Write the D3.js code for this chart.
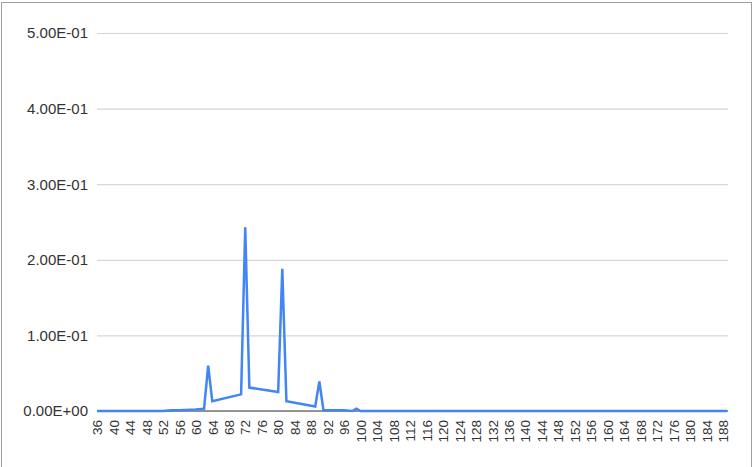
<!DOCTYPE html>
<html>
<head>
<meta charset="utf-8">
<script src="https://cdn.jsdelivr.net/npm/d3@7"></script>
<style>
  html, body { margin: 0; padding: 0; background: #fff; }
  svg { display: block; font-family: "Liberation Sans", Arial, sans-serif; }
</style>
</head>
<body>
<div id="chart"></div>
<script>
// break points of the series (values elsewhere sit on these segments)
const xValues = [36, 52, 54, 56, 60, 62, 63, 64, 71, 72, 73, 80, 81, 82, 89, 90, 91, 96, 98, 99, 100, 189]
const yValues = [0, 0, 0.001, 0.001, 0.002, 0.003, 0.06, 0.013, 0.022, 0.243, 0.031, 0.025, 0.188, 0.013, 0.006, 0.039, 0.001, 0.001, 0, 0.003, 0, 0]
const xTicks = [36, 40, 44, 48, 52, 56, 60, 64, 68, 72, 76, 80, 84, 88, 92, 96, 100, 104, 108, 112, 116, 120,
  124, 128, 132, 136, 140, 144, 148, 152, 156, 160, 164, 168, 172, 176, 180, 184, 188]
const yTicks = [0, 0.1, 0.2, 0.3, 0.4, 0.5]
const yTickLabels = ["0.00E+00", "1.00E-01", "2.00E-01", "3.00E-01", "4.00E-01", "5.00E-01"]

const width = 753, height = 467
const margin = {top: 33, right: 25, bottom: 56, left: 97}

const svg = d3.select("#chart")
  .append("svg")
  .attr("width", width)
  .attr("height", height)

// outer frame of the chart box
svg.append("rect")
  .attr("x", 1.5).attr("y", 2.5)
  .attr("width", 750).attr("height", 470)
  .attr("fill", "none")
  .attr("stroke", "#9e9e9e")

const x = d3.scaleLinear().domain([36, 189]).range([margin.left, width - margin.right - 1])
const y = d3.scaleLinear().domain([0, 0.5]).range([height - margin.bottom, margin.top])

// horizontal gridlines + y labels
const gy = svg.append("g")
  .attr("transform", "translate(" + margin.left + ",0)")
  .call(d3.axisLeft(y)
    .tickValues(yTicks)
    .tickSize(-(width - margin.right - margin.left))
    .tickPadding(9)
    .tickFormat((d, i) => yTickLabels[i]))
gy.select(".domain").remove()
gy.selectAll(".tick line").attr("stroke", "#d6d6d6").attr("stroke-width", 1.2)
gy.selectAll(".tick text")
  .attr("fill", "#333")
  .style("font-size", "15px")
  .style("font-family", "'Liberation Sans', Arial, sans-serif")

// baseline
svg.append("line")
  .attr("x1", margin.left).attr("x2", width - margin.right)
  .attr("y1", y(0)).attr("y2", y(0))
  .attr("stroke", "#777")
  .attr("stroke-width", 1.5)

// x labels, vertical
const gx = svg.append("g")
  .attr("transform", "translate(0," + y(0) + ")")
  .call(d3.axisBottom(x).tickValues(xTicks).tickSize(0).tickFormat(d3.format("d")))
gx.select(".domain").remove()
gx.selectAll(".tick text")
  .attr("fill", "#333")
  .attr("transform", "rotate(-90)")
  .attr("text-anchor", "end")
  .attr("x", -9)
  .attr("y", 0)
  .attr("dy", "0.35em")
  .style("font-size", "13.5px")
  .style("font-family", "'Liberation Sans', Arial, sans-serif")

const data = xValues.map((v, i) => ({x: v, y: yValues[i]}))

svg.append("path")
  .datum(data)
  .attr("fill", "none")
  .attr("stroke", "#4285f4")
  .attr("stroke-width", 2.5)
  .attr("d", d3.line().x(d => x(d.x)).y(d => y(d.y)))
</script>
</body>
</html>
